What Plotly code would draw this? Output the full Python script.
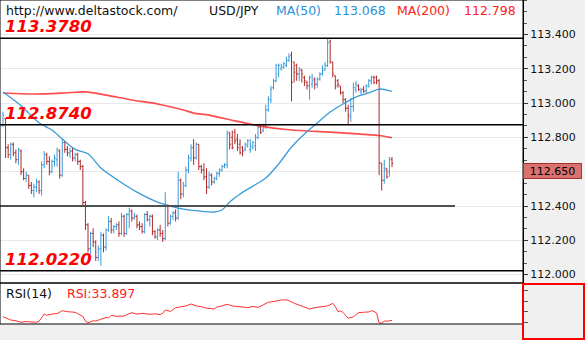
import plotly.graph_objects as go

# ---- USD/JPY bars (open / high / low / close) ----
bar_open = [
    112.87, 112.91, 112.74, 112.70, 112.76, 112.71, 112.67, 112.72, 112.60, 112.56,
    112.58, 112.52, 112.49, 112.51, 112.54, 112.49, 112.64, 112.70, 112.66, 112.60,
    112.66, 112.67, 112.72, 112.58, 112.77, 112.73, 112.71, 112.72, 112.68, 112.70,
    112.66, 112.63, 112.42, 112.29, 112.15, 112.24, 112.19, 112.10, 112.15, 112.23,
    112.16, 112.26, 112.31, 112.26, 112.28, 112.29, 112.24, 112.34, 112.24, 112.35,
    112.37, 112.33, 112.34, 112.29, 112.28, 112.25, 112.35, 112.32, 112.34, 112.25,
    112.22, 112.26, 112.24, 112.21, 112.40, 112.30, 112.34, 112.36, 112.33, 112.55,
    112.47, 112.52, 112.61, 112.68, 112.74, 112.68, 112.76, 112.63, 112.61, 112.57,
    112.51, 112.58, 112.54, 112.56, 112.59, 112.61, 112.63, 112.64, 112.83, 112.80,
    112.83, 112.79, 112.76, 112.74, 112.73, 112.75, 112.73, 112.74, 112.75, 112.80,
    112.86, 112.84, 112.87, 112.96, 113.02, 113.09, 113.13, 113.17, 113.20, 113.21,
    113.22, 113.25, 113.28, 113.24, 113.22, 113.17, 113.19, 113.15, 113.12, 113.10,
    113.11, 113.14, 113.11, 113.14, 113.17, 113.19, 113.22, 113.36, 113.24, 113.16,
    113.13, 113.10, 113.06, 113.02, 112.97, 112.92, 112.98, 113.08, 113.10, 113.07,
    113.08, 113.07, 113.10, 113.13, 113.15, 113.15, 113.13, 112.65, 112.55, 112.62,
    112.60, 112.67,
]
bar_high = [
    112.95, 112.91, 112.76, 112.77, 112.77, 112.73, 112.74, 112.73, 112.62, 112.60,
    112.58, 112.54, 112.53, 112.56, 112.55, 112.66, 112.72, 112.71, 112.69, 112.67,
    112.70, 112.74, 112.73, 112.79, 112.78, 112.75, 112.74, 112.74, 112.71, 112.71,
    112.67, 112.64, 112.43, 112.30, 112.25, 112.27, 112.20, 112.17, 112.25, 112.24,
    112.27, 112.34, 112.33, 112.29, 112.30, 112.31, 112.36, 112.35, 112.36, 112.39,
    112.38, 112.36, 112.35, 112.31, 112.30, 112.36, 112.37, 112.35, 112.35, 112.26,
    112.27, 112.29, 112.26, 112.48, 112.41, 112.35, 112.37, 112.38, 112.60, 112.56,
    112.54, 112.63, 112.70, 112.76, 112.79, 112.77, 112.76, 112.64, 112.65, 112.62,
    112.60, 112.59, 112.57, 112.60, 112.62, 112.64, 112.65, 112.84, 112.83, 112.84,
    112.85, 112.82, 112.79, 112.75, 112.77, 112.79, 112.79, 112.78, 112.82, 112.87,
    112.87, 112.88, 112.99, 113.04, 113.10, 113.14, 113.23, 113.23, 113.23, 113.24,
    113.27, 113.29, 113.30, 113.24, 113.23, 113.21, 113.20, 113.16, 113.13, 113.16,
    113.17, 113.15, 113.15, 113.18, 113.22, 113.24, 113.38, 113.37, 113.24, 113.16,
    113.14, 113.10, 113.07, 113.03, 112.99, 113.03, 113.12, 113.13, 113.11, 113.09,
    113.10, 113.11, 113.14, 113.16, 113.16, 113.16, 113.14, 112.65, 112.67, 112.62,
    112.685, 112.685,
]
bar_low = [
    112.86, 112.68, 112.68, 112.67, 112.69, 112.65, 112.64, 112.58, 112.55, 112.54,
    112.50, 112.47, 112.45, 112.48, 112.47, 112.46, 112.62, 112.64, 112.58, 112.59,
    112.63, 112.63, 112.56, 112.57, 112.71, 112.69, 112.68, 112.66, 112.66, 112.64,
    112.61, 112.40, 112.26, 112.13, 112.12, 112.16, 112.08, 112.08, 112.05, 112.13,
    112.14, 112.25, 112.24, 112.24, 112.26, 112.22, 112.23, 112.22, 112.23, 112.27,
    112.31, 112.32, 112.27, 112.26, 112.24, 112.24, 112.31, 112.28, 112.23, 112.21,
    112.20, 112.22, 112.19, 112.20, 112.28, 112.29, 112.32, 112.31, 112.32, 112.44,
    112.45, 112.51, 112.59, 112.66, 112.64, 112.67, 112.61, 112.59, 112.55, 112.47,
    112.50, 112.52, 112.53, 112.55, 112.57, 112.60, 112.62, 112.62, 112.73, 112.73,
    112.76, 112.72, 112.70, 112.69, 112.72, 112.74, 112.71, 112.73, 112.72, 112.79,
    112.82, 112.83, 112.85, 112.95, 113.00, 113.08, 113.12, 113.15, 113.19, 113.20,
    113.21, 113.24, 113.01, 113.12, 113.13, 113.13, 113.12, 113.10, 113.08, 113.02,
    113.09, 113.08, 113.09, 113.13, 113.16, 113.19, 113.21, 113.23, 113.15, 113.08,
    113.09, 113.05, 113.00, 112.95, 112.87, 112.89, 112.95, 113.06, 113.07, 113.05,
    113.06, 113.06, 113.09, 113.11, 113.11, 113.11, 112.58, 112.49, 112.53, 112.56,
    112.57, 112.627,
]
bar_close = [
    112.93, 112.74, 112.70, 112.76, 112.71, 112.67, 112.73, 112.60, 112.56, 112.58,
    112.52, 112.49, 112.51, 112.54, 112.49, 112.64, 112.70, 112.66, 112.60, 112.66,
    112.68, 112.73, 112.58, 112.77, 112.73, 112.71, 112.72, 112.68, 112.70, 112.66,
    112.63, 112.42, 112.29, 112.15, 112.24, 112.19, 112.10, 112.15, 112.23, 112.16,
    112.26, 112.31, 112.26, 112.28, 112.29, 112.24, 112.34, 112.24, 112.35, 112.37,
    112.33, 112.34, 112.29, 112.28, 112.25, 112.35, 112.32, 112.34, 112.25, 112.22,
    112.26, 112.24, 112.21, 112.40, 112.30, 112.34, 112.36, 112.33, 112.55, 112.47,
    112.52, 112.61, 112.68, 112.74, 112.68, 112.76, 112.63, 112.61, 112.57, 112.51,
    112.58, 112.54, 112.56, 112.59, 112.61, 112.63, 112.64, 112.82, 112.76, 112.74,
    112.78, 112.74, 112.71, 112.72, 112.76, 112.78, 112.75, 112.77, 112.80, 112.86,
    112.83, 112.87, 112.96, 113.02, 113.08, 113.13, 113.22, 113.22, 113.21, 113.23,
    113.25, 113.27, 113.12, 113.18, 113.17, 113.20, 113.17, 113.13, 113.10, 113.15,
    113.13, 113.11, 113.14, 113.17, 113.20, 113.22, 113.35, 113.24, 113.17, 113.10,
    113.11, 113.06, 113.02, 112.97, 112.93, 112.98, 113.09, 113.11, 113.08, 113.08,
    113.07, 113.10, 113.13, 113.15, 113.12, 113.13, 112.65, 112.55, 112.61, 112.57,
    112.68, 112.650,
]
bar_index = list(range(len(bar_close)))

# ---- moving averages, sampled along the bar axis ----
ma50_bar = [0, 7, 14, 19, 23, 28, 33, 38, 45, 52, 60, 68, 76, 82, 85, 88, 92, 97,
            102, 107, 112, 117, 122, 127, 132, 137, 142, 146, 151]
ma50_val = [113.065, 112.985, 112.885, 112.843, 112.790, 112.730, 112.705, 112.621,
            112.546, 112.481, 112.423, 112.388, 112.371, 112.365, 112.377, 112.423,
            112.470, 112.516, 112.563, 112.645, 112.744, 112.820, 112.884, 112.948,
            112.995, 113.035, 113.059, 113.082, 113.068]
ma200_bar = [0, 12, 24, 32, 40, 50, 60, 70, 74, 80, 90, 100, 110, 120, 130, 140, 146, 151]
ma200_val = [113.059, 113.053, 113.059, 113.065, 113.047, 113.018, 112.995, 112.960,
             112.942, 112.930, 112.896, 112.866, 112.846, 112.836, 112.828, 112.818,
             112.811, 112.798]

# ---- RSI(14) ----
rsi_bar = [0, 1, 3, 5, 7, 9, 10, 12, 13, 14, 16, 17, 19, 21, 23, 25, 28, 29, 31, 32,
           33, 34, 35, 36, 38, 40, 41, 42, 44, 47, 48, 50, 52, 54, 57, 59, 61, 62, 63, 65,
           67, 69, 71, 73, 75, 77, 79, 82, 83, 85, 87, 89, 92, 95, 97, 99, 101, 103, 106, 108,
           110, 111, 113, 115, 117, 119, 121, 124, 126, 128, 129, 130, 131, 132, 134, 136,
           138, 140, 142, 143, 144, 145, 146, 147, 148, 149, 151]
rsi_val = [40.8, 38.3, 34.5, 33.2, 30.2, 31.6, 31.3, 30.6, 30.2, 32.1,
           45.8, 43.4, 45.8, 46.5, 52.0, 50.1, 49.0, 46.5, 40.8, 32.1,
           29.5, 31.1, 33.2, 32.6, 35.8, 39.3, 38.3, 43.3, 41.4, 42.0,
           44.5, 48.3, 45.5, 47.0, 45.2, 46.0, 44.5, 47.1, 53.3, 50.6,
           57.6, 58.8, 60.9, 64.6, 60.9, 59.5, 56.8, 55.1, 58.8, 60.9,
           64.0, 60.9, 59.5, 57.8, 59.9, 58.3, 62.9, 67.8, 70.1, 72.1,
           72.2, 70.7, 66.0, 62.7, 58.8, 55.1, 57.8, 59.5, 60.9, 65.9,
           59.9, 50.1, 51.6, 48.6, 37.7, 40.4, 48.3, 49.1, 49.6, 52.0,
           50.6, 47.5, 29.5, 28.5, 32.6, 32.1, 33.897]

# ---- levels, ticks and header text ----
levels = [113.378, 112.874, 112.022]
support_level = 112.40
price_ticks = [112.0, 112.2, 112.4, 112.6, 112.8, 113.0, 113.2, 113.4]
rsi_ticks = [30, 50, 70, 90]
site = "http://www.deltastock.com/"
symbol = "USD/JPY"

# ---- layout geometry (pixels of the 585x340 canvas) ----
W, H = 585, 340
PLOT_R = 523            # right edge of the price/RSI panels
MAIN_BOTTOM = 283       # bottom of the price panel
RSI_BOTTOM = 324        # bottom of the RSI panel
FIRST_BAR_PX, LAST_BAR_PX = 3, 392

step = (LAST_BAR_PX - FIRST_BAR_PX) / (len(bar_index) - 1)
x_lo = bar_index[0] - FIRST_BAR_PX / step
x_hi = x_lo + PLOT_R / step

def py(p):
    return 1 - p / H

def px(p):
    return p / W

UP = "#3a9ad9"
DOWN = "#b0282a"
FONT = "DejaVu Sans"

fig = go.Figure()

fig.add_trace(go.Ohlc(
    x=bar_index, open=bar_open, high=bar_high, low=bar_low, close=bar_close,
    increasing=dict(line=dict(color=UP, width=1)),
    decreasing=dict(line=dict(color=DOWN, width=1)),
    tickwidth=0.5, hoverinfo="skip", xaxis="x", yaxis="y",
))
fig.add_trace(go.Scatter(
    x=ma200_bar, y=ma200_val, mode="lines",
    line=dict(color="rgba(255,45,45,0.85)", width=1.7, shape="spline", smoothing=0.8),
    hoverinfo="skip", xaxis="x", yaxis="y",
))
fig.add_trace(go.Scatter(
    x=ma50_bar, y=ma50_val, mode="lines",
    line=dict(color="#3b9bd8", width=1.3, shape="spline", smoothing=0.8),
    hoverinfo="skip", xaxis="x", yaxis="y",
))
fig.add_trace(go.Scatter(
    x=rsi_bar, y=rsi_val, mode="lines",
    line=dict(color="#ff3030", width=1),
    hoverinfo="skip", xaxis="x2", yaxis="y2",
))

shapes = []
for lv in levels:
    shapes.append(dict(type="line", xref="x domain", yref="y", x0=0, x1=1, y0=lv, y1=lv,
                       line=dict(color="black", width=1.5), layer="above"))
shapes.append(dict(type="line", xref="x domain", yref="y", x0=0, x1=455 / PLOT_R,
                   y0=support_level, y1=support_level,
                   line=dict(color="#505050", width=2), layer="above"))
# panel frames
shapes.append(dict(type="rect", xref="paper", yref="paper", x0=0, x1=px(PLOT_R),
                   y0=py(MAIN_BOTTOM), y1=1, line=dict(color="black", width=1)))
shapes.append(dict(type="rect", xref="paper", yref="paper", x0=0, x1=px(PLOT_R),
                   y0=py(RSI_BOTTOM), y1=py(MAIN_BOTTOM), line=dict(color="black", width=1)))
# red box below the price scale
shapes.append(dict(type="rect", xref="paper", yref="paper", x0=px(523), x1=px(584),
                   y0=py(339), y1=py(284), line=dict(color="#ff0000", width=2)))

annotations = []

def header(text, x, color, y=10, size=12.5):
    annotations.append(dict(text=text, xref="paper", yref="paper", x=px(x), y=py(y),
                            xanchor="left", yanchor="middle", showarrow=False,
                            font=dict(family=FONT, size=size, color=color)))

header(site, 4, "#111111")
header(symbol, 207, "#111111")
header("MA(50)", 274, "#2b8fd6")
header(f"{ma50_val[-1]:.3f}", 332, "#2b8fd6")
header("MA(200)", 395, "#ff2020")
header(f"{ma200_val[-1]:.3f}", 462, "#ff2020")
header("RSI(14)", 4, "#111111", y=293)
header(f"RSI:{rsi_val[-1]:.3f}", 65, "#ff2020", y=293)

for lv in levels:
    annotations.append(dict(text=f"{lv:.4f}", xref="paper", yref="y", x=px(3), y=lv,
                            xanchor="left", yanchor="bottom", yshift=0, showarrow=False,
                            font=dict(family=FONT, size=16.5, color="#ff0000",
                                      weight="bold", style="italic")))

annotations.append(dict(text=f"{bar_close[-1]:.3f}", xref="paper", yref="y",
                        x=px(PLOT_R), y=bar_close[-1], xanchor="left", yanchor="top",
                        showarrow=False, bgcolor="#d9716f", bordercolor="#a83232",
                        borderwidth=1, borderpad=1, width=55, height=12,
                        font=dict(family=FONT, size=11, color="black")))

fig.update_layout(
    width=W, height=H, margin=dict(l=0, r=0, t=0, b=0),
    paper_bgcolor="#f0f0f0", plot_bgcolor="white",
    showlegend=False, hovermode=False,
    shapes=shapes, annotations=annotations,
    xaxis=dict(domain=[0, px(PLOT_R)], range=[x_lo, x_hi], visible=False,
               rangeslider=dict(visible=False), fixedrange=True),
    xaxis2=dict(domain=[0, px(PLOT_R)], range=[x_lo, x_hi], visible=False,
                matches="x", anchor="y2"),
    yaxis=dict(domain=[py(MAIN_BOTTOM), 1],
               range=[113.4 - (MAIN_BOTTOM - 34.5) / 171.5, 113.4 + 34.5 / 171.5],
               side="right", anchor="x", tickvals=price_ticks, tickformat=".3f",
               ticks="outside", ticklen=4, tickcolor="#333333",
               minor=dict(dtick=0.2 / 3, tick0=112.0, ticks="outside", ticklen=3,
                          tickcolor="#555555", showgrid=False),
               showgrid=True, gridcolor="#e8e8e8", gridwidth=1, zeroline=False,
               showline=True, linecolor="black", linewidth=1,
               tickfont=dict(family=FONT, size=11, color="#111111")),
    yaxis2=dict(domain=[py(RSI_BOTTOM), py(MAIN_BOTTOM)], range=[27, 104],
                side="right", anchor="x2", tickvals=rsi_ticks, showticklabels=False,
                ticks="outside", ticklen=4, tickcolor="#555555",
                showgrid=False, zeroline=False, showline=True, linecolor="black"),
)

fig.write_html("out.html")
